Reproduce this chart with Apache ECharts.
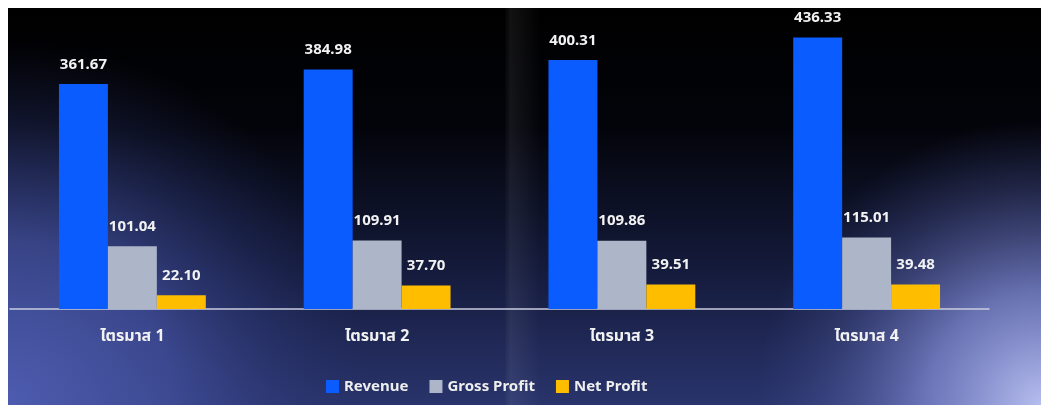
<!DOCTYPE html>
<html>
<head>
<meta charset="utf-8">
<script src="https://cdn.jsdelivr.net/npm/echarts@6/dist/echarts.min.js"></script>
<style>
  html, body { margin: 0; padding: 0; background: #ffffff; }
  #chart { width: 1041px; height: 405px; }
</style>
</head>
<body>
<div id="chart"></div>
<script>
// ข้อมูลรายไตรมาส
const quarters = ["ไตรมาส 1", "ไตรมาส 2", "ไตรมาส 3", "ไตรมาส 4"];
const revenue = [361.67, 384.98, 400.31, 436.33];
const grossProfit = [101.04, 109.91, 109.86, 115.01];
const netProfit = [22.1, 37.7, 39.51, 39.48];

const FONT = "'Noto Sans', 'Noto Sans Thai', 'Open Sans', sans-serif";

const chart = echarts.init(document.getElementById("chart"));

const barLabel = {
  show: true,
  position: "top",
  distance: 12,
  color: "#f2f2f2",
  fontSize: 15,
  fontWeight: "bold",
  fontFamily: FONT,
  formatter: (p) => p.value.toFixed(2),
};

// พื้นหลังแบบไล่สี
const background = [
  {
    type: "rect",
    z: -10,
    shape: { x: 8, y: 8, width: 1033, height: 397 },
    style: {
      fill: new echarts.graphic.LinearGradient(0, 0, 0, 1, [
        { offset: 0, color: "#000000" },
        { offset: 0.3, color: "#03040a" },
        { offset: 0.65, color: "#141a3a" },
        { offset: 1, color: "#29346c" },
      ]),
    },
  },
  {
    type: "rect",
    z: -9,
    shape: { x: 8, y: 40, width: 560, height: 365 },
    style: {
      fill: new echarts.graphic.RadialGradient(0, 1, 1, [
        { offset: 0, color: "rgba(78,92,176,1)" },
        { offset: 0.45, color: "rgba(68,82,160,0.75)" },
        { offset: 0.8, color: "rgba(50,62,130,0.25)" },
        { offset: 1, color: "rgba(40,50,110,0)" },
      ]),
    },
  },
  {
    type: "rect",
    z: -9,
    shape: { x: 700, y: 120, width: 341, height: 285 },
    style: {
      fill: new echarts.graphic.RadialGradient(1, 1, 1, [
        { offset: 0, color: "rgba(182,190,238,1)" },
        { offset: 0.4, color: "rgba(130,140,212,0.75)" },
        { offset: 0.75, color: "rgba(90,100,170,0.3)" },
        { offset: 1, color: "rgba(70,80,150,0)" },
      ]),
    },
  },
  {
    type: "rect",
    z: -8,
    shape: { x: 505, y: 8, width: 36, height: 397 },
    style: {
      fill: new echarts.graphic.LinearGradient(0, 0, 1, 0, [
        { offset: 0, color: "rgba(255,255,255,0.01)" },
        { offset: 0.15, color: "rgba(255,255,255,0.07)" },
        { offset: 1, color: "rgba(255,255,255,0)" },
      ]),
    },
  },
];

const option = {
  backgroundColor: "#ffffff",
  animation: false,
  graphic: background,
  grid: { left: 10, right: 52, top: 29, bottom: 96 },
  legend: {
    left: 321,
    top: 374,
    icon: "rect",
    itemWidth: 13,
    itemHeight: 13,
    itemGap: 21,
    textStyle: { color: "#eeeeee", fontSize: 15, fontWeight: "bold", fontFamily: FONT },
    data: ["Revenue", "Gross Profit", "Net Profit"],
  },
  xAxis: {
    type: "category",
    data: quarters,
    axisLine: { lineStyle: { color: "#c9cde0", width: 1.5 } },
    axisTick: { show: false },
    axisLabel: {
      color: "#f2f2f2",
      fontSize: 16,
      fontWeight: "bold",
      fontFamily: FONT,
      margin: 19,
    },
  },
  yAxis: {
    type: "value",
    min: 0,
    max: 450,
    show: false,
    splitLine: { show: false },
  },
  series: [
    {
      name: "Revenue",
      type: "bar",
      data: revenue,
      barGap: "0%",
      barCategoryGap: "40%",
      itemStyle: { color: "#0b5cff" },
      label: barLabel,
    },
    {
      name: "Gross Profit",
      type: "bar",
      data: grossProfit,
      itemStyle: { color: "#adb5c8" },
      label: barLabel,
    },
    {
      name: "Net Profit",
      type: "bar",
      data: netProfit,
      itemStyle: { color: "#ffbd00" },
      label: barLabel,
    },
  ],
};

chart.setOption(option);
window.addEventListener("resize", chart.resize);
</script>
</body>
</html>
